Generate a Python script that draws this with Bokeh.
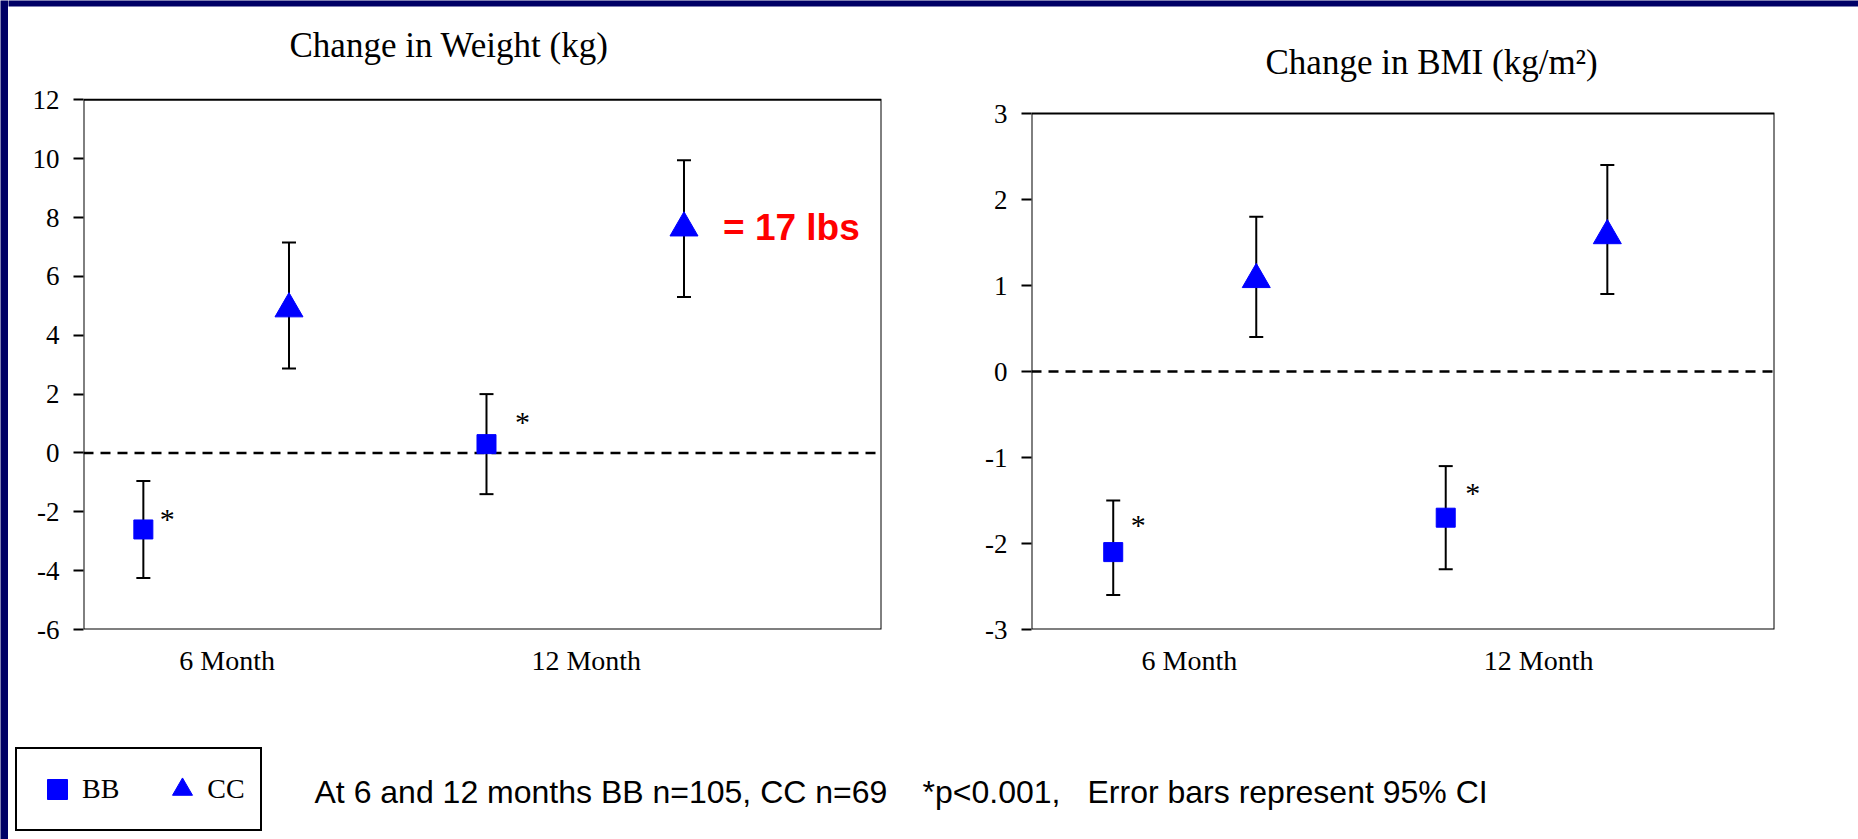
from bokeh.plotting import figure
from bokeh.models import (Range1d, FixedTicker, Whisker, ColumnDataSource, Span, Label,
                          Legend, LegendItem, TeeHead, BoxAnnotation)
from bokeh.layouts import row, column
from bokeh.embed import file_html
from bokeh.resources import INLINE
from bokeh.core.properties import value

# ---------------- data ----------------
categories = ["6 Month", "12 Month"]

# weight chart: category label positions and series x positions
wt_cat_pos = [0.72, 2.52]
wt_bb_pos = [0.30, 2.02]
wt_cc_pos = [1.03, 3.01]
# BMI chart
bmi_cat_pos = [0.85, 2.73]
bmi_bb_pos = [0.44, 2.23]
bmi_cc_pos = [1.21, 3.10]

wt_bb = [-2.6, 0.3]
wt_bb_lo = [-4.25, -1.4]
wt_bb_hi = [-0.95, 2.0]
wt_cc = [4.9, 7.65]
wt_cc_lo = [2.87, 5.3]
wt_cc_hi = [7.15, 9.95]

bmi_bb = [-2.1, -1.7]
bmi_bb_lo = [-2.6, -2.3]
bmi_bb_hi = [-1.5, -1.1]
bmi_cc = [1.07, 1.58]
bmi_cc_lo = [0.4, 0.9]
bmi_cc_hi = [1.8, 2.4]

bb_sig = ["*", "*"]

wt_ticks = [-6, -4, -2, 0, 2, 4, 6, 8, 10, 12]
bmi_ticks = [-3, -2, -1, 0, 1, 2, 3]

NAVY = "#000066"
BLUE = "#0000FF"
SERIF = "Liberation Serif"
SANS = "Liberation Sans"


def strip(width, height, white_below):
    """Plain strip whose frame is navy; an optional white border below it."""
    b = figure(width=width, height=height,
               output_backend="svg", toolbar_location=None,
               x_axis_location=None, y_axis_location=None,
               min_border_left=0, min_border_right=0, min_border_top=0,
               min_border_bottom=white_below,
               background_fill_color=NAVY, border_fill_color="white")
    b.outline_line_color = None
    b.xgrid.visible = False
    b.ygrid.visible = False
    return b


def make_panel(title, y0, y1, yticks, cat_pos, bb_pos, cc_pos, bb, bb_lo, bb_hi, cc, cc_lo, cc_hi,
               width, height, mbl, mbr, box_top, mbb, title_x, title_gap, star_dx, star_dy):
    # the frame reaches up to the canvas top so the title can sit inside it;
    # the visible chart box covers [y0, y1] only
    frame_h = height - mbb
    box_h = frame_h - box_top
    y_end = y1 + box_top * (y1 - y0) / box_h
    p = figure(width=width, height=height, x_range=Range1d(0, 4), y_range=Range1d(y0, y_end),
               output_backend="svg", toolbar_location=None,
               min_border_left=mbl, min_border_right=mbr,
               min_border_top=0, min_border_bottom=mbb)
    p.xgrid.visible = False
    p.ygrid.visible = False
    p.background_fill_color = "white"
    p.border_fill_color = "white"
    p.outline_line_color = None

    p.add_layout(BoxAnnotation(left=0, right=4, bottom=y0, top=y1, fill_alpha=0,
                               line_color="black", line_width=2, line_alpha=1))

    ya = p.yaxis[0]
    ya.ticker = FixedTicker(ticks=yticks)
    ya.major_label_overrides = {t: str(t) for t in yticks}
    ya.axis_line_color = None
    ya.major_tick_line_color = "black"
    ya.major_tick_line_width = 2
    ya.major_tick_out = 10
    ya.major_tick_in = 0
    ya.minor_tick_line_color = None
    ya.major_label_standoff = 14
    ya.major_label_text_font = SERIF
    ya.major_label_text_font_size = "27px"
    ya.major_label_text_color = "black"

    xa = p.xaxis[0]
    xa.ticker = FixedTicker(ticks=cat_pos)
    xa.major_label_overrides = {pos: lab for pos, lab in zip(cat_pos, categories)}
    xa.axis_line_color = None
    xa.major_tick_line_color = None
    xa.minor_tick_line_color = None
    xa.major_label_standoff = 9
    xa.major_label_text_font = SERIF
    xa.major_label_text_font_size = "28px"
    xa.major_label_text_color = "black"

    p.add_layout(Span(location=0, dimension="width", line_dash="10 7", line_width=2.5,
                      line_color="black", level="underlay"))

    src_bb = ColumnDataSource(dict(x=bb_pos, y=bb, lo=bb_lo, hi=bb_hi, s=bb_sig,
                                   dx=star_dx, dy=star_dy))
    src_cc = ColumnDataSource(dict(x=cc_pos, y=cc, lo=cc_lo, hi=cc_hi))
    for src in (src_bb, src_cc):
        p.add_layout(Whisker(source=src, base="x", lower="lo", upper="hi",
                             line_color="black", line_width=2, level="underlay",
                             upper_head=TeeHead(size=14, line_width=2, line_color="black"),
                             lower_head=TeeHead(size=14, line_width=2, line_color="black")))
    p.scatter("x", "y", source=src_bb, marker="square", size=19,
              fill_color=BLUE, line_color=BLUE)
    p.scatter("x", "y", source=src_cc, marker="triangle", size=28,
              fill_color=BLUE, line_color=BLUE)
    p.text("x", "y", text="s", source=src_bb, x_offset="dx", y_offset="dy",
           text_font=value(SERIF), text_font_size="30px", text_baseline="middle",
           text_align="center", text_color="black")

    p.add_layout(Label(x=title_x, y=box_h + title_gap,
                       x_units="screen", y_units="screen",
                       text=title, text_font=SERIF, text_font_size="35px",
                       text_align="left", text_baseline="alphabetic", text_color="black"))
    return p, src_bb, src_cc


p1, src_wt_bb, src_wt_cc = make_panel(
    "Change in Weight (kg)", -6, 12, wt_ticks, wt_cat_pos, wt_bb_pos, wt_cc_pos,
    wt_bb, wt_bb_lo, wt_bb_hi, wt_cc, wt_cc_lo, wt_cc_hi,
    width=932, height=684, mbl=75, mbr=59, box_top=78, mbb=72, title_x=206, title_gap=50,
    star_dx=[24, 36], star_dy=[-11, -23])
p1.add_layout(Label(x=wt_cc_pos[1], y=wt_cc[1], x_offset=39, text="= 17 lbs",
                    text_font=SANS, text_font_style="bold", text_font_size="37px",
                    text_color="#FF0000", text_baseline="middle", text_align="left"))

p2, _, _ = make_panel(
    "Change in BMI (kg/m\u00b2)", -3, 3, bmi_ticks, bmi_cat_pos, bmi_bb_pos, bmi_cc_pos,
    bmi_bb, bmi_bb_lo, bmi_bb_hi, bmi_cc, bmi_cc_lo, bmi_cc_hi,
    width=918, height=684, mbl=91, mbr=84, box_top=91, mbb=77, title_x=234, title_gap=51,
    star_dx=[25, 27], star_dy=[-28, -25])

# bottom strip: legend + note
p3 = figure(width=1850, height=133, x_range=Range1d(0, 1), y_range=Range1d(0, 1),
            output_backend="svg", toolbar_location=None,
            x_axis_location=None, y_axis_location=None,
            min_border_left=0, min_border_right=0, min_border_top=0, min_border_bottom=0)
p3.xgrid.visible = False
p3.ygrid.visible = False
p3.outline_line_color = None
p3.background_fill_color = "white"
p3.border_fill_color = "white"
# legend glyph renderers reuse the weight data (all of it lies outside this strip's ranges)
r_bb = p3.scatter("x", "y", source=src_wt_bb, marker="square", fill_color=BLUE, line_color=BLUE)
r_cc = p3.scatter("x", "y", source=src_wt_cc, marker="triangle", fill_color=BLUE, line_color=BLUE)
legend = Legend(items=[LegendItem(label="BB", renderers=[r_bb], index=0),
                       LegendItem(label="CC", renderers=[r_cc], index=0)],
                orientation="horizontal", location=(7, 8), margin=0,
                padding=15, spacing=38, label_standoff=0,
                glyph_width=50, glyph_height=50,
                label_text_font=SERIF, label_text_font_size="28px",
                label_text_color="black",
                border_line_color="black", border_line_width=2, border_line_alpha=1,
                background_fill_color="white", background_fill_alpha=1)
p3.add_layout(legend)

note_parts = ["At 6 and 12 months BB n=105, CC n=69", "*p<0.001,", "Error bars represent 95% CI"]
note_x = [306, 914, 1079]
for t, xx in zip(note_parts, note_x):
    p3.add_layout(Label(x=xx, y=48, x_units="screen", y_units="screen", text=t,
                        text_font=SANS, text_font_size="32px", text_color="black",
                        text_baseline="alphabetic", text_align="left"))

left_bar = strip(8, 839, 0)        # navy strip down the left edge
top_bar = strip(1850, 22, 16)      # 6 px navy line along the top, white below
layout = row(left_bar, column(top_bar, row(p1, p2), p3))

open("out.html", "w").write(file_html(layout, INLINE))
